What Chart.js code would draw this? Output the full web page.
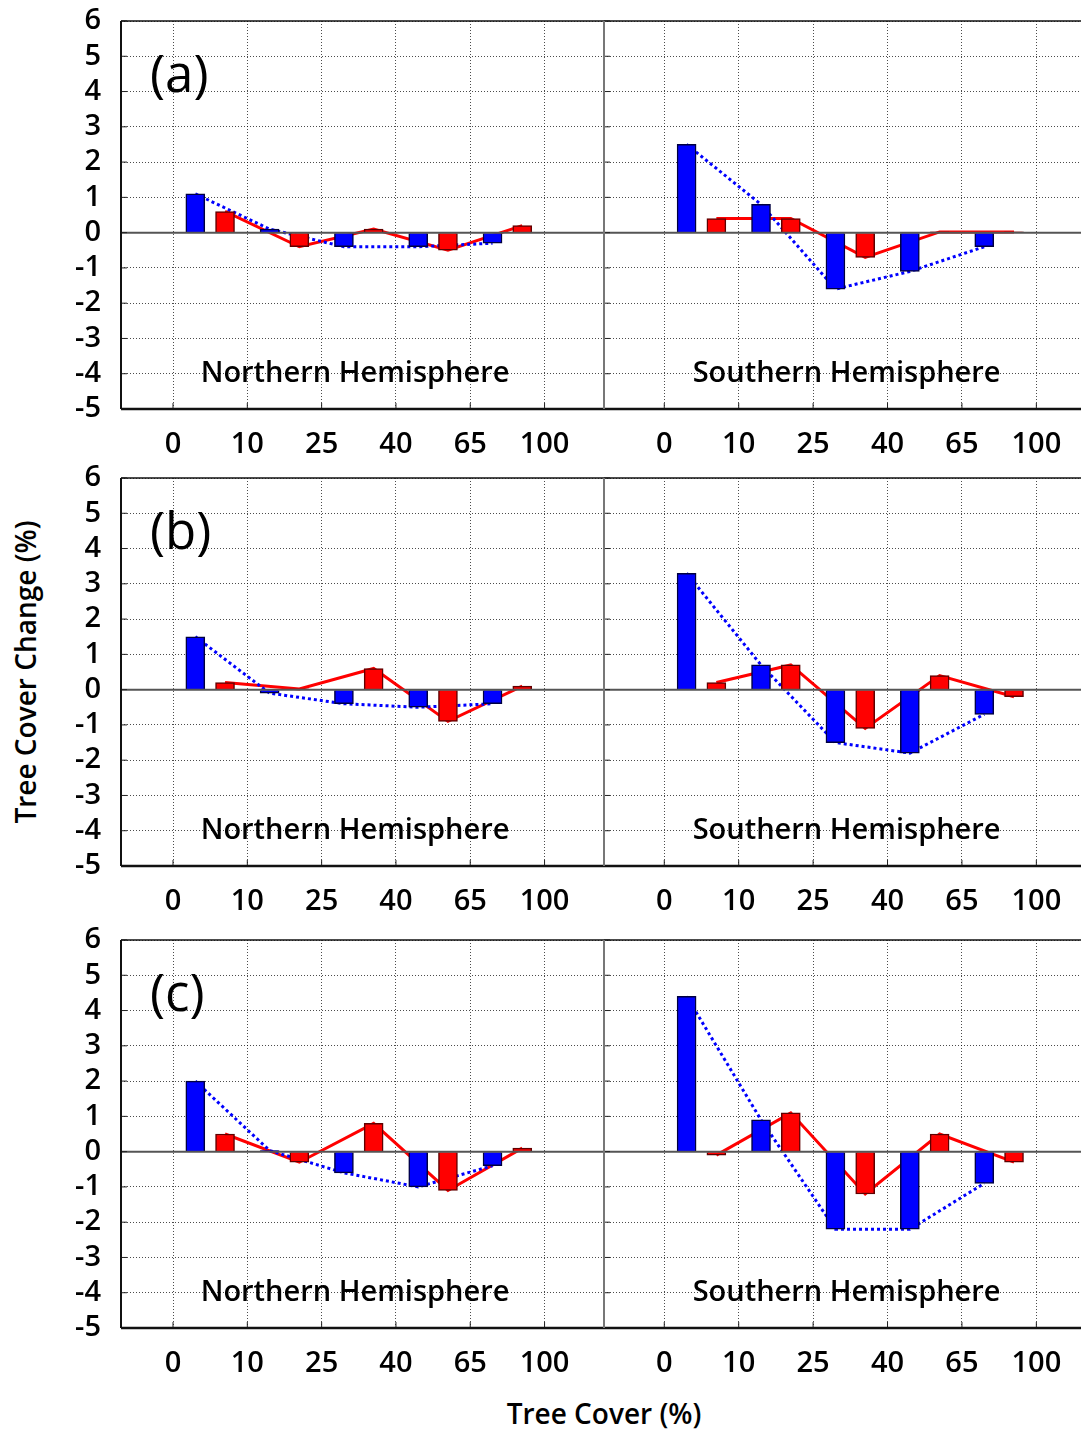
<!DOCTYPE html>
<html>
<head>
<meta charset="utf-8">
<script src="https://cdn.jsdelivr.net/npm/chart.js@4.4.0/dist/chart.umd.min.js"></script>
<style>
  body { margin: 0; background: #fff; }
  #fig { position: relative; width: 1081px; height: 1430px; overflow: hidden;
         font-family: 'Open Sans', sans-serif; font-weight: 600; color: #000; }
  #fig canvas { position: absolute; }
  .axis-title { position: absolute; font-size: 28px; white-space: nowrap; text-align: center; line-height: 36px; }
  #ytitle { left: -175px; top: 654px; width: 400px; transform: rotate(-90deg); }
  #xtitle { left: 404px; top: 1395px; width: 400px; }
</style>
</head>
<body>
<div id="fig">
  <div class="axis-title" id="ytitle">Tree Cover Change (%)</div>
  <div class="axis-title" id="xtitle">Tree Cover (%)</div>
</div>
<script>
const coverClasses = ['0', '10', '25', '40', '65', '100'];
const yMin = -5;
const yMax = 6;

// one value per tree-cover interval: 0-10, 10-25, 25-40, 40-65, 65-100
const aNorthBlue = [1.1, 0.1, -0.4, -0.4, -0.3];
const aNorthRed  = [0.6, -0.4, 0.1, -0.5, 0.2];
const aSouthBlue = [2.5, 0.8, -1.6, -1.1, -0.4];
const aSouthRed  = [0.4, 0.4, -0.7, 0.02, 0.02];

const bNorthBlue = [1.5, -0.1, -0.4, -0.5, -0.4];
const bNorthRed  = [0.2, 0.02, 0.6, -0.9, 0.1];
const bSouthBlue = [3.3, 0.7, -1.5, -1.8, -0.7];
const bSouthRed  = [0.2, 0.7, -1.1, 0.4, -0.2];

const cNorthBlue = [2.0, 0.03, -0.6, -1.0, -0.4];
const cNorthRed  = [0.5, -0.3, 0.8, -1.1, 0.1];
const cSouthBlue = [4.4, 0.9, -2.2, -2.2, -0.9];
const cSouthRed  = [-0.1, 1.1, -1.2, 0.5, -0.3];

const rows = [
  { letter: '(a)', plotTop: 21,  north: [aNorthBlue, aNorthRed], south: [aSouthBlue, aSouthRed] },
  { letter: '(b)', plotTop: 478, north: [bNorthBlue, bNorthRed], south: [bSouthBlue, bSouthRed] },
  { letter: '(c)', plotTop: 940, north: [cNorthBlue, cNorthRed], south: [cSouthBlue, cSouthRed] }
];

const BLUE = '#0000ff';
const RED = '#ff0000';
const FONT = 'Open Sans';
const PAD_TOP = 20;

function points(values, offset) {
  return values.map((v, i) => ({ x: i + offset, y: v }));
}

function buildDatasets(blue, red) {
  const bar = { type: 'bar', grouped: false, barThickness: 19, borderWidth: 1.5, order: 1 };
  const line = { type: 'line', pointRadius: 0, borderWidth: 3, tension: 0, order: 2 };
  return [
    { ...bar, data: points(blue, 0.3), backgroundColor: BLUE, borderColor: '#000040' },
    { ...bar, data: points(red, 0.7), backgroundColor: RED, borderColor: '#600000' },
    { ...line, data: points(blue, 0.3), borderColor: BLUE, borderDash: [3, 3] },
    { ...line, data: points(red, 0.7), borderColor: RED }
  ];
}

function strokeLine(ctx, x1, y1, x2, y2) {
  ctx.beginPath();
  ctx.moveTo(x1, y1);
  ctx.lineTo(x2, y2);
  ctx.stroke();
}

// frame, zero line, inner tick marks and the panel texts
const panelDecor = {
  id: 'panelDecor',
  afterDatasetsDraw(chart, args, opts) {
    const { ctx, chartArea: a, scales: { x, y } } = chart;
    ctx.save();

    const y0 = y.getPixelForValue(0);
    ctx.strokeStyle = '#555';
    ctx.lineWidth = 2;
    strokeLine(ctx, a.left, y0, a.right, y0);

    ctx.strokeStyle = '#222';
    ctx.lineWidth = 1;
    x.ticks.forEach(t => {
      const px = x.getPixelForValue(t.value);
      strokeLine(ctx, px, a.bottom, px, a.bottom - 6);
    });
    y.ticks.forEach(t => {
      const py = y.getPixelForValue(t.value);
      strokeLine(ctx, a.left, py, a.left + 6, py);
    });

    ctx.strokeStyle = '#111';
    ctx.lineWidth = 1.5;
    strokeLine(ctx, a.left, a.top, a.right, a.top);
    ctx.lineWidth = 2.5;
    strokeLine(ctx, a.left, a.bottom, a.right, a.bottom);
    ctx.lineWidth = 2;
    ctx.strokeStyle = opts.leftEdge;
    strokeLine(ctx, a.left, a.top, a.left, a.bottom);
    if (opts.rightEdge) {
      ctx.strokeStyle = opts.rightEdge;
      strokeLine(ctx, a.right, a.top, a.right, a.bottom);
    }

    ctx.fillStyle = '#000';
    ctx.textBaseline = 'middle';
    ctx.textAlign = 'center';
    ctx.font = `600 29px "${FONT}"`;
    ctx.fillText(opts.hemi, x.getPixelForValue(2.45), y.getPixelForValue(-4));
    if (opts.letter) {
      ctx.textAlign = 'left';
      ctx.font = `500 51px "${FONT}"`;
      ctx.fillText(opts.letter, a.left + 29, y.getPixelForValue(4.4));
    }
    ctx.restore();
  }
};

function buildChart(left, top, width, height, series, side, row) {
  const canvas = document.createElement('canvas');
  canvas.width = width;
  canvas.height = height;
  canvas.style.left = left + 'px';
  canvas.style.top = top + 'px';
  document.getElementById('fig').appendChild(canvas);

  const isLeft = side === 'north';
  const gridLine = { color: 'rgba(0,0,0,0.7)', lineWidth: 1, drawTicks: false, offset: false };
  const tickFont = { family: FONT, size: 29, weight: '600' };

  return new Chart(canvas.getContext('2d'), {
    type: 'bar',
    data: { datasets: buildDatasets(series[0], series[1]) },
    options: {
      responsive: false,
      animation: false,
      devicePixelRatio: 1,
      layout: { padding: { top: PAD_TOP, right: isLeft ? 2 : 0, left: 0, bottom: 0 } },
      plugins: {
        legend: { display: false },
        tooltip: { enabled: false },
        panelDecor: {
          hemi: isLeft ? 'Northern Hemisphere' : 'Southern Hemisphere',
          letter: isLeft ? row.letter : null,
          leftEdge: isLeft ? '#111' : '#777',
          rightEdge: isLeft ? '#777' : null
        }
      },
      scales: {
        x: {
          type: 'linear',
          offset: false,
          min: isLeft ? -0.7 : -0.81,
          max: isLeft ? 5.8 : 5.6,
          grid: gridLine,
          border: { display: false, dash: [1, 2] },
          afterBuildTicks: s => { s.ticks = coverClasses.map((_, i) => ({ value: i })); },
          afterFit: s => { s.height = 56; s.paddingLeft = 0; s.paddingRight = 0; },
          ticks: {
            autoSkip: false,
            color: '#000',
            font: tickFont,
            padding: 18,
            maxRotation: 0,
            callback: v => coverClasses[v]
          }
        },
        y: {
          min: yMin,
          max: yMax,
          grid: gridLine,
          border: { display: false, dash: [1, 2] },
          afterFit: s => { s.width = isLeft ? 121 : 1; s.paddingTop = 0; s.paddingBottom = 0; },
          ticks: {
            display: isLeft,
            autoSkip: false,
            stepSize: 1,
            color: '#000',
            font: tickFont,
            padding: 20
          }
        }
      }
    },
    plugins: [panelDecor]
  });
}

rows.forEach(row => {
  const top = row.plotTop - PAD_TOP;
  const height = PAD_TOP + 388 + 56;
  buildChart(0, top, 606, height, row.north, 'north', row);
  buildChart(603, top, 478, height, row.south, 'south', row);
});
</script>
</body>
</html>
